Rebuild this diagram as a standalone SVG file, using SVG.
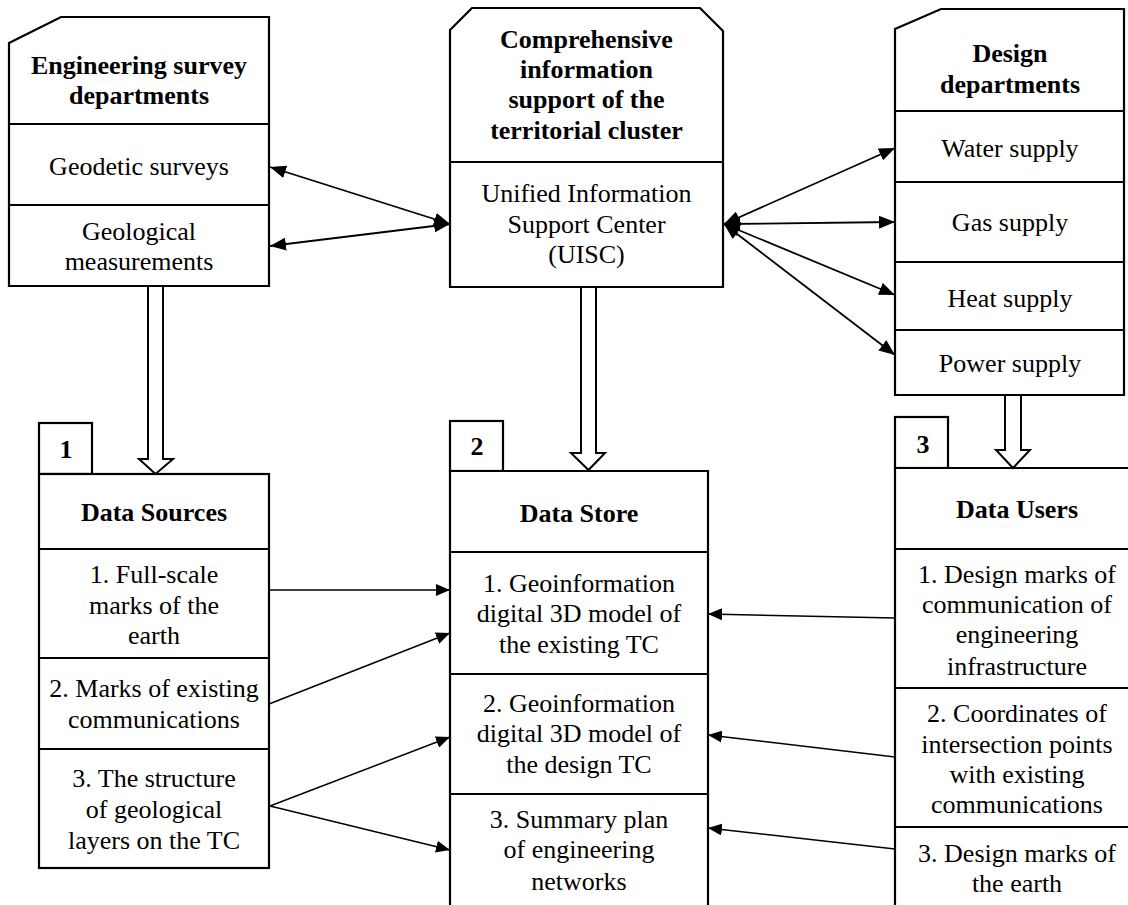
<svg xmlns="http://www.w3.org/2000/svg" width="1128" height="905" viewBox="0 0 1128 905">
<style>
.box{fill:#fff;stroke:#000;stroke-width:2.2}
.div{stroke:#000;stroke-width:2.2}
.t{font-family:"Liberation Serif","Times New Roman",serif;font-size:26px;text-anchor:middle;fill:#000}
.b{font-weight:bold}
.c{stroke:#000;stroke-width:1.8;fill:none}
.c2{stroke:#000;stroke-width:1.5;fill:none}
.hol{fill:#fff;stroke:#000;stroke-width:2}
</style>
<defs>
<marker id="ah" markerUnits="userSpaceOnUse" markerWidth="17" markerHeight="13" refX="16" refY="6.5" orient="auto-start-reverse">
<path d="M0,0 L16,6.5 L0,13 Z" fill="#000"/>
</marker>
<marker id="ah2" markerUnits="userSpaceOnUse" markerWidth="15" markerHeight="12" refX="14" refY="6" orient="auto">
<path d="M0,0 L14,6 L0,12 Z" fill="#000"/>
</marker>
</defs>

<g id="survey">
<path class="box" d="M9,43 L61,17 H269 V286 H9 Z"/>
<line class="div" x1="9" y1="124" x2="269" y2="124"/>
<line class="div" x1="9" y1="205" x2="269" y2="205"/>
<text class="t b" x="139" y="74">Engineering survey</text>
<text class="t b" x="139" y="104">departments</text>
<text class="t" x="139" y="175">Geodetic surveys</text>
<text class="t" x="139" y="240">Geological</text>
<text class="t" x="139" y="270">measurements</text>
</g>

<g id="center">
<path class="box" d="M450,30 L472,8 H700 L723,31 V287 H450 Z"/>
<line class="div" x1="450" y1="162" x2="723" y2="162"/>
<text class="t b" x="586.5" y="48">Comprehensive</text>
<text class="t b" x="586.5" y="78">information</text>
<text class="t b" x="586.5" y="108">support of the</text>
<text class="t b" x="586.5" y="139">territorial cluster</text>
<text class="t" x="586.5" y="202">Unified Information</text>
<text class="t" x="586.5" y="233">Support Center</text>
<text class="t" x="586.5" y="263">(UISC)</text>
</g>

<g id="design">
<path class="box" d="M895,29 L941,9 H1124 V395 H895 Z"/>
<line class="div" x1="895" y1="111" x2="1124" y2="111"/>
<line class="div" x1="895" y1="182" x2="1124" y2="182"/>
<line class="div" x1="895" y1="262" x2="1124" y2="262"/>
<line class="div" x1="895" y1="330" x2="1124" y2="330"/>
<text class="t b" x="1010" y="62">Design</text>
<text class="t b" x="1010" y="93">departments</text>
<text class="t" x="1010" y="157">Water supply</text>
<text class="t" x="1010" y="231">Gas supply</text>
<text class="t" x="1010" y="307">Heat supply</text>
<text class="t" x="1010" y="372">Power supply</text>
</g>

<g id="sources">
<rect class="box" x="39" y="423" width="53" height="51"/>
<text class="t b" x="66" y="458">1</text>
<rect class="box" x="39" y="474" width="230" height="394"/>
<line class="div" x1="39" y1="549" x2="269" y2="549"/>
<line class="div" x1="39" y1="658" x2="269" y2="658"/>
<line class="div" x1="39" y1="749" x2="269" y2="749"/>
<text class="t b" x="154" y="521">Data Sources</text>
<text class="t" x="154" y="583">1. Full-scale</text>
<text class="t" x="154" y="614">marks of the</text>
<text class="t" x="154" y="644">earth</text>
<text class="t" x="154" y="697">2. Marks of existing</text>
<text class="t" x="154" y="728">communications</text>
<text class="t" x="154" y="787">3. The structure</text>
<text class="t" x="154" y="818">of geological</text>
<text class="t" x="154" y="849">layers on the TC</text>
</g>

<g id="store">
<rect class="box" x="450" y="421" width="53" height="50"/>
<text class="t b" x="477" y="455">2</text>
<path class="box" d="M450,910 V471 H708 V910"/>
<line class="div" x1="450" y1="552" x2="708" y2="552"/>
<line class="div" x1="450" y1="674" x2="708" y2="674"/>
<line class="div" x1="450" y1="794" x2="708" y2="794"/>
<text class="t b" x="579" y="522">Data Store</text>
<text class="t" x="579" y="592">1. Geoinformation</text>
<text class="t" x="579" y="622">digital 3D model of</text>
<text class="t" x="579" y="653">the existing TC</text>
<text class="t" x="579" y="712">2. Geoinformation</text>
<text class="t" x="579" y="742">digital 3D model of</text>
<text class="t" x="579" y="773">the design TC</text>
<text class="t" x="579" y="828">3. Summary plan</text>
<text class="t" x="579" y="858">of engineering</text>
<text class="t" x="579" y="890">networks</text>
</g>

<g id="users">
<rect class="box" x="895" y="417" width="53" height="51"/>
<text class="t b" x="923" y="453">3</text>
<path class="box" d="M895,910 V468 H1140 V910"/>
<line class="div" x1="895" y1="549" x2="1140" y2="549"/>
<line class="div" x1="895" y1="688" x2="1140" y2="688"/>
<line class="div" x1="895" y1="827" x2="1140" y2="827"/>
<text class="t b" x="1017" y="518">Data Users</text>
<text class="t" x="1017" y="583">1. Design marks of</text>
<text class="t" x="1017" y="613">communication of</text>
<text class="t" x="1017" y="643">engineering</text>
<text class="t" x="1017" y="675">infrastructure</text>
<text class="t" x="1017" y="722">2. Coordinates of</text>
<text class="t" x="1017" y="753">intersection points</text>
<text class="t" x="1017" y="783">with existing</text>
<text class="t" x="1017" y="813">communications</text>
<text class="t" x="1017" y="862">3. Design marks of</text>
<text class="t" x="1017" y="892">the earth</text>
</g>

<g id="connectors">
<path class="hol" d="M148,287 V459 H139 L155.5,474 L173,459 H163 V287"/>
<path class="hol" d="M581,288 V453 H571 L588.5,470 L605,453 H596 V288"/>
<path class="hol" d="M1005,396 V450 H996 L1013,468 L1030,450 H1021 V396"/>

<line class="c" x1="270" y1="167" x2="450" y2="224" marker-start="url(#ah)" marker-end="url(#ah)"/>
<line class="c" x1="270" y1="246" x2="450" y2="224" marker-start="url(#ah)" marker-end="url(#ah)"/>
<line class="c" x1="724" y1="224" x2="895" y2="148" marker-start="url(#ah)" marker-end="url(#ah)"/>
<line class="c" x1="724" y1="224" x2="895" y2="222" marker-start="url(#ah)" marker-end="url(#ah)"/>
<line class="c" x1="724" y1="224" x2="895" y2="295" marker-start="url(#ah)" marker-end="url(#ah)"/>
<line class="c" x1="724" y1="224" x2="895" y2="355" marker-start="url(#ah)" marker-end="url(#ah)"/>

<line class="c2" x1="269" y1="590" x2="450" y2="590" marker-end="url(#ah2)"/>
<line class="c2" x1="269" y1="704" x2="450" y2="633" marker-end="url(#ah2)"/>
<line class="c2" x1="270" y1="806" x2="450" y2="737" marker-end="url(#ah2)"/>
<line class="c2" x1="270" y1="806" x2="450" y2="850" marker-end="url(#ah2)"/>
<line class="c2" x1="895" y1="618" x2="708" y2="614" marker-end="url(#ah2)"/>
<line class="c2" x1="895" y1="757" x2="708" y2="735" marker-end="url(#ah2)"/>
<line class="c2" x1="895" y1="849" x2="708" y2="828" marker-end="url(#ah2)"/>
</g>
</svg>
